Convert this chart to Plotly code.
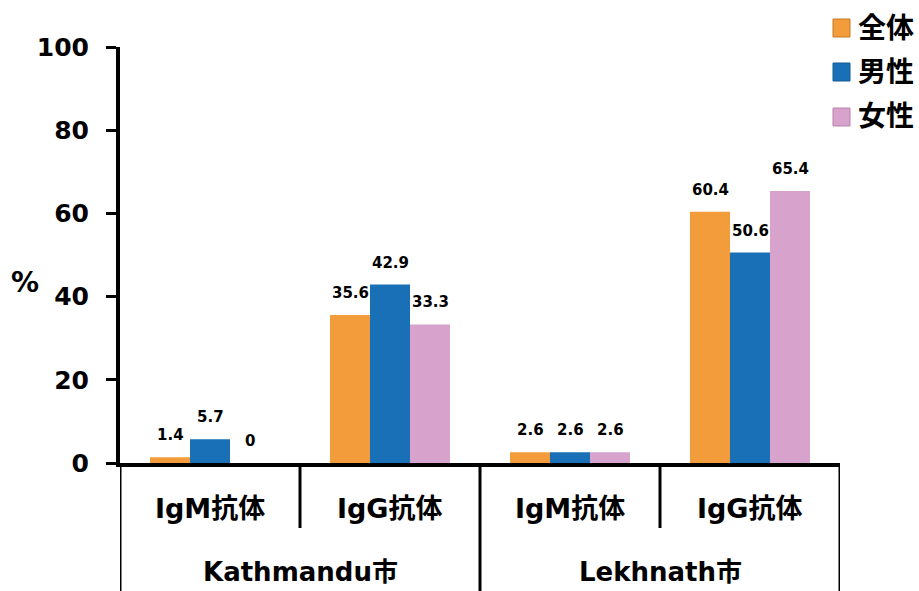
import plotly.graph_objects as go

# ---- data -------------------------------------------------------------
cities = ["Kathmandu市", "Lekhnath市"]
antibodies = ["IgM抗体", "IgG抗体"]
series_names = ["全体", "男性", "女性"]
overall = [1.4, 35.6, 2.6, 60.4]
male = [5.7, 42.9, 2.6, 50.6]
female = [0, 33.3, 2.6, 65.4]
y_ticks = [0, 20, 40, 60, 80, 100]

# ---- styling ----------------------------------------------------------
W, H = 919, 591
M_L, M_R, M_T, M_B = 120, 79, 47, 128
PLOT_W = W - M_L - M_R
PLOT_H = H - M_T - M_B
BARGAP = 1 / 3

fills = ["#F39C3C", "#1A70B6", "#D7A2CB"]
edges = ["#C77A25", "#125A93", "#B783AB"]
FONT = "DejaVu Sans, Noto Sans CJK JP, sans-serif"

cats = [f"{c} {a}" for c in cities for a in antibodies]
values = [overall, male, female]

fig = go.Figure()
for name, vals, fc in zip(series_names, values, fills):
    fig.add_trace(go.Bar(
        x=cats, y=vals, name=name, showlegend=False,
        marker=dict(color=fc, line=dict(width=0)),
    ))


def px_x(p):
    return (p - M_L) / PLOT_W


def px_y(p):
    return (H - M_B - p) / PLOT_H


# value labels above each bar
n_series = len(values)
bar_px = PLOT_W / len(cats) * (1 - BARGAP) / n_series
annotations = []
for s, vals in enumerate(values):
    for cat, v in zip(cats, vals):
        annotations.append(dict(
            x=cat, y=v, xref="x", yref="y", text=f"{v:g}",
            showarrow=False, yanchor="bottom", yshift=11,
            xshift=(s - (n_series - 1) / 2) * bar_px,
            font=dict(family=FONT, size=15, color="black", weight="bold"),
        ))

# two-level category labels under the x axis
for i, cat in enumerate(cats):
    annotations.append(dict(
        x=cat, y=0, xref="x", yref="paper", text=antibodies[i % 2],
        showarrow=False, yanchor="middle", yshift=-45,
        font=dict(family=FONT, size=27, color="black", weight="bold"),
    ))
for j, city in enumerate(cities):
    annotations.append(dict(
        x=2 * j + 0.5, y=0, xref="x", yref="paper", text=city,
        showarrow=False, yanchor="middle", yshift=-109,
        font=dict(family=FONT, size=26, color="black", weight="bold"),
    ))

# "%" axis title
annotations.append(dict(
    x=px_x(9), y=px_y(282), xref="paper", yref="paper",
    text="%", showarrow=False, xanchor="left", yanchor="middle",
    font=dict(family=FONT, size=28, color="black", weight="bold"),
))

shapes = []
# dividers between categories
for b in [-0.5, 0.5, 1.5, 2.5, 3.5]:
    outer = (b + 0.5) % 2 == 0
    shapes.append(dict(
        type="line", xref="x", yref="paper", ysizemode="pixel", yanchor=0,
        x0=b, x1=b, y0=0, y1=-(M_B + 2) if outer else -65,
        line=dict(color="black", width=3),
    ))

# legend: swatch + label
legend_rows = [28, 72, 117]
for name, fc, ec, cy in zip(series_names, fills, edges, legend_rows):
    shapes.append(dict(
        type="rect", xref="paper", yref="paper",
        x0=px_x(833), x1=px_x(850), y0=px_y(cy + 9), y1=px_y(cy - 9),
        fillcolor=fc, line=dict(color=ec, width=1),
    ))
    annotations.append(dict(
        x=px_x(856), y=px_y(cy), xref="paper", yref="paper", text=name,
        showarrow=False, xanchor="left", yanchor="middle",
        font=dict(family=FONT, size=28, color="black", weight="bold"),
    ))

fig.update_layout(
    width=W, height=H,
    margin=dict(l=M_L, r=M_R, t=M_T, b=M_B, pad=0),
    paper_bgcolor="white", plot_bgcolor="white",
    barmode="group", bargap=BARGAP, bargroupgap=0,
    annotations=annotations, shapes=shapes,
    xaxis=dict(
        type="category", range=[-0.5, len(cats) - 0.5],
        showticklabels=False, ticks="", showgrid=False,
        showline=True, linecolor="black", linewidth=4, zeroline=False,
    ),
    yaxis=dict(
        range=[0, 100], tickvals=y_ticks, ticks="outside", ticklen=10,
        tickwidth=3, tickcolor="black", showline=True, linecolor="black",
        linewidth=4, showgrid=False, zeroline=False, ticklabelstandoff=12,
        tickfont=dict(family=FONT, size=25, color="black", weight="bold"),
    ),
)

fig.write_html("out.html")
